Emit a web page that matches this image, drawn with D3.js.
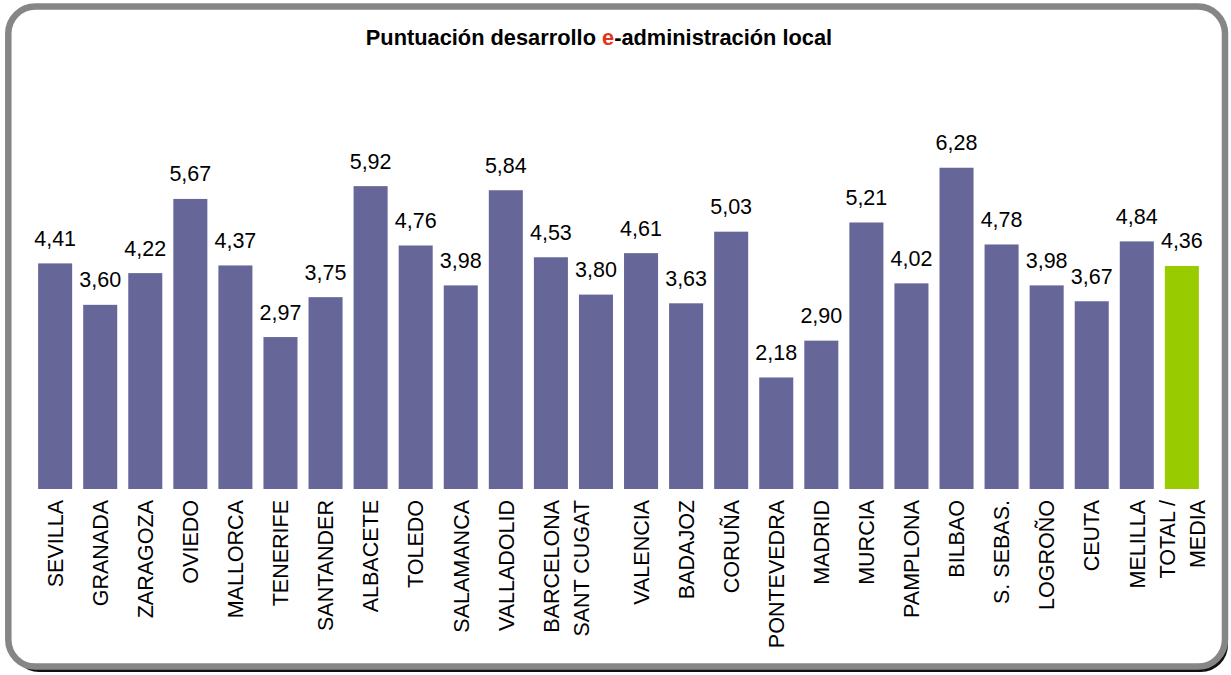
<!DOCTYPE html>
<html>
<head>
<meta charset="utf-8">
<script src="https://cdn.jsdelivr.net/npm/d3@7"></script>
<style>
  body { margin: 0; background: #fff; }
  svg { display: block; font-family: "Liberation Sans", Arial, sans-serif; }
</style>
</head>
<body>
<div id="chart"></div>
<script>

const categories = [ "SEVILLA", "GRANADA", "ZARAGOZA", "OVIEDO", "MALLORCA", "TENERIFE",
	"SANTANDER", "ALBACETE", "TOLEDO", "SALAMANCA", "VALLADOLID", "BARCELONA",
	"SANT CUGAT\n", "VALENCIA", "BADAJOZ", "CORUÑA", "PONTEVEDRA", "MADRID", "MURCIA",
	"PAMPLONA", "BILBAO", "S. SEBAS.", "LOGROÑO", "CEUTA", "MELILLA", "TOTAL /\nMEDIA" ] ;

const values = [ 4.41, 3.60, 4.22, 5.67, 4.37, 2.97, 3.75, 5.92, 4.76, 3.98, 5.84, 4.53,
	3.80, 4.61, 3.63, 5.03, 2.18, 2.90, 5.21, 4.02, 6.28, 4.78, 3.98, 3.67, 4.84, 4.36 ] ;

const yDomain = [0, 7] ;

const width = 1231 ;
const height = 675 ;

const svg = d3.select("#chart").append("svg")
	.attr("width", width)
	.attr("height", height) ;

// frame with dark shadow at bottom right
svg.append("rect")
	.attr("x", 12).attr("y", 10)
	.attr("width", 1216).attr("height", 662)
	.attr("rx", 27)
	.attr("fill", "#111") ;

svg.append("rect")
	.attr("x", 8.3).attr("y", 6.6)
	.attr("width", 1216.7).attr("height", 660)
	.attr("rx", 27)
	.attr("fill", "#fff")
	.attr("stroke", "#868686")
	.attr("stroke-width", 6.5) ;

// title
const title = svg.append("text")
	.attr("x", 599).attr("y", 45)
	.attr("text-anchor", "middle")
	.attr("font-size", 21.8)
	.attr("font-weight", "bold")
	.attr("fill", "#000") ;
title.append("tspan").text("Puntuación desarrollo ") ;
title.append("tspan").attr("fill", "#E2341D").text("e") ;
title.append("tspan").text("-administración local") ;

const data = categories.map( function(c, i) { return { cat: c, value: values[i], last: i === categories.length - 1 } } ) ;

const x = d3.scaleBand()
	.domain( categories )
	.range( [32.6, 1204.4] )
	.paddingInner( 0.245 )
	.paddingOuter( 0.1225 ) ;

const y = d3.scaleLinear()
	.domain( yDomain )
	.range( [489, 130.9] ) ;

svg.selectAll("rect.bar")
	.data( data )
	.enter()
		.append("rect")
			.attr("class", "bar")
			.attr("x", function(d) { return x(d.cat) })
			.attr("width", x.bandwidth())
			.attr("y", function(d) { return y(d.value) })
			.attr("height", function(d) { return y(0) - y(d.value) })
			.attr("fill", function(d) { return d.last ? "#99CC00" : "#666699" }) ;

const fmt = function(v) { return d3.format(".2f")(v).replace(".", ",") } ;

svg.selectAll("text.value")
	.data( data )
	.enter()
		.append("text")
			.attr("class", "value")
			.attr("x", function(d) { return x(d.cat) + x.bandwidth() / 2 })
			.attr("y", function(d) { return y(d.value) - 17.5 })
			.attr("text-anchor", "middle")
			.attr("font-size", 21.5)
			.attr("fill", "#000")
			.text(function(d) { return fmt(d.value) }) ;

// rotated category labels
const lineH = 30 ;
const labels = svg.selectAll("text.cat")
	.data( data )
	.enter()
		.append("text")
			.attr("class", "cat")
			.attr("transform", function(d) {
				return "translate(" + (x(d.cat) + x.bandwidth() / 2) + ",500) rotate(-90)" })
			.attr("text-anchor", "end")
			.attr("font-size", 21.5)
			.attr("fill", "#000") ;

labels.each(function(d) {
	const lines = d.cat.split("\n") ;
	const n = lines.length ;
	const t = d3.select(this) ;
	lines.forEach(function(line, i) {
		t.append("tspan")
			.attr("x", 0)
			.attr("y", (i - (n - 1) / 2) * lineH)
			.attr("dy", "0.36em")
			.text(line) ;
	}) ;
}) ;

</script>
</body>
</html>
